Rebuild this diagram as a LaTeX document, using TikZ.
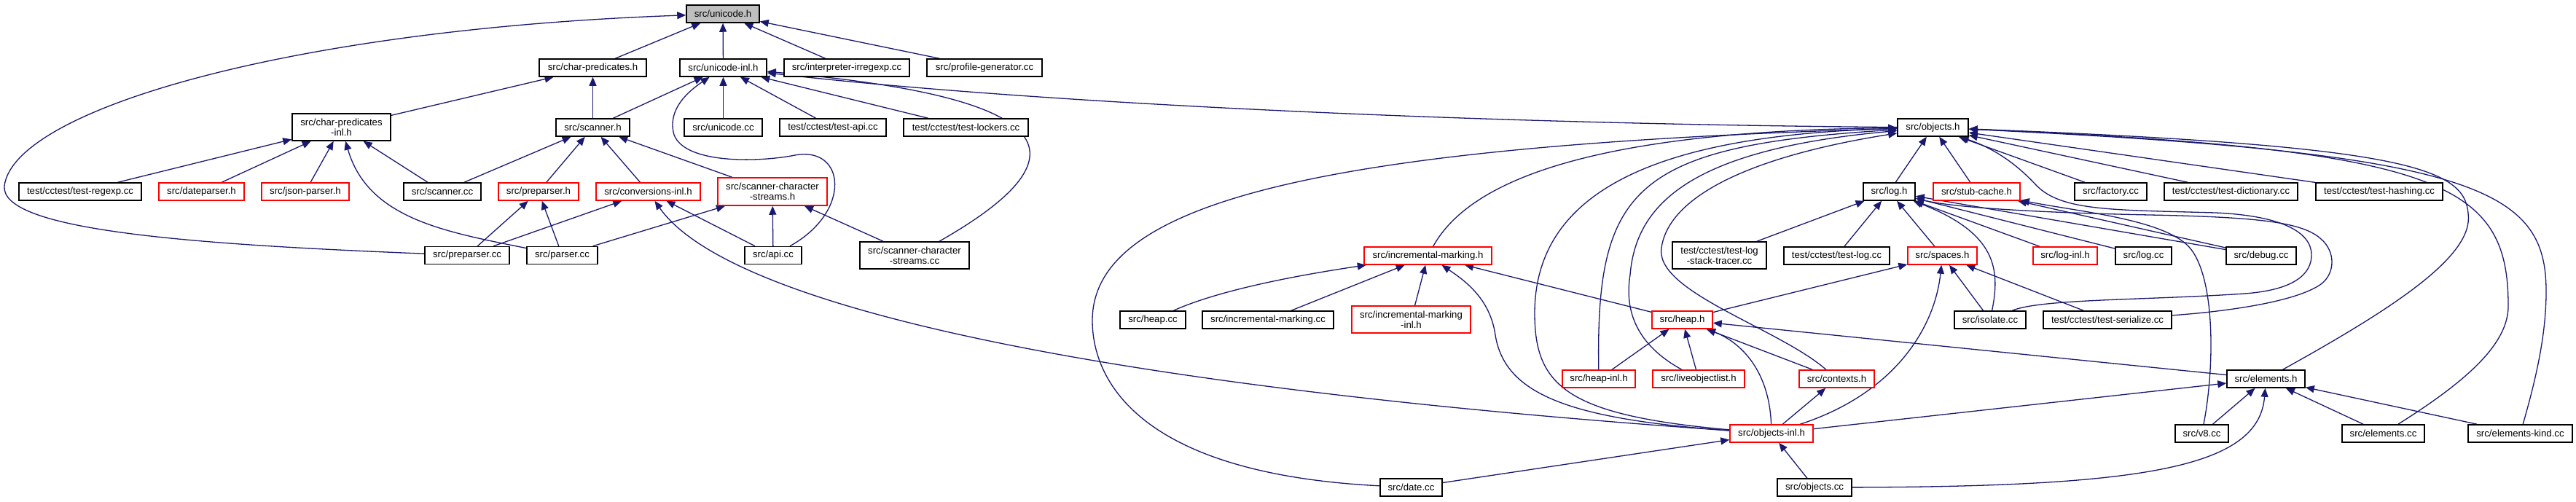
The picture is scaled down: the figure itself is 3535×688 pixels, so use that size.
\documentclass[tikz,border=0pt]{standalone}
\usepackage{fontspec}
\setmainfont{Liberation Sans}
\usetikzlibrary{arrows.meta,backgrounds}
\definecolor{edgec}{RGB}{25,25,112}
\definecolor{rootfill}{RGB}{191,191,191}
\tikzset{
  nd/.style={draw=black, line width=1.5pt, fill=white, inner sep=0pt, minimum height=24pt, align=center, font=\fontsize{13.2}{14}\selectfont},
  rd/.style={nd, draw=red},
  e/.style={draw=edgec, line width=1.3pt, -{Triangle[length=12pt,width=10pt]}},
}
\begin{document}
\begin{tikzpicture}[x=1pt,y=-1pt]
\useasboundingbox (0,0) rectangle (3535,688);
% row 0
\node[nd, fill=rootfill, minimum width=100pt] (unicode) at (992,19) {src/unicode.h};
% row 1
\node[nd, minimum width=147pt] (charpred) at (813.5,93) {src/char-predicates.h};
\node[nd, minimum width=119pt] (unicodeinl) at (992.5,93) {src/unicode-inl.h};
\node[nd, minimum width=172pt] (interp) at (1162,93) {src/interpreter-irregexp.cc};
\node[nd, minimum width=158pt] (profgen) at (1351,93) {src/profile-generator.cc};
% row 2
\node[nd, minimum width=135pt, minimum height=37pt] (charpredinl) at (468.5,174.5) {src/char-predicates\\-inl.h};
\node[nd, minimum width=101pt] (scannerh) at (813.5,175) {src/scanner.h};
\node[nd, minimum width=107pt] (unicodecc) at (992.5,175) {src/unicode.cc};
\node[nd, minimum width=146pt] (testapi) at (1143,175) {test/cctest/test-api.cc};
\node[nd, minimum width=171pt] (testlockers) at (1325.5,175) {test/cctest/test-lockers.cc};
\node[nd, minimum width=97pt] (objectsh) at (2652.5,175) {src/objects.h};
% row 3
\node[nd, minimum width=168pt] (testregexp) at (110,263) {test/cctest/test-regexp.cc};
\node[rd, minimum width=117pt] (dateparser) at (276.5,263) {src/dateparser.h};
\node[rd, minimum width=120pt] (jsonparser) at (419,263) {src/json-parser.h};
\node[nd, minimum width=106pt] (scannercc) at (607,263) {src/scanner.cc};
\node[rd, minimum width=110pt] (preparserh) at (739,263) {src/preparser.h};
\node[rd, minimum width=143pt] (convinl) at (889.5,263) {src/conversions-inl.h};
\node[rd, minimum width=150pt, minimum height=38pt] (scstreamsh) at (1060,263) {src/scanner-character\\-streams.h};
\node[nd, minimum width=71pt] (logh) at (2592.5,263) {src/log.h};
\node[rd, minimum width=119pt] (stubcache) at (2712.5,263) {src/stub-cache.h};
\node[nd, minimum width=99pt] (factory) at (2896.5,263) {src/factory.cc};
\node[nd, minimum width=183pt] (testdict) at (3061.5,263) {test/cctest/test-dictionary.cc};
\node[nd, minimum width=174pt] (testhash) at (3265,263) {test/cctest/test-hashing.cc};
% row 4
\node[nd, minimum width=116pt] (preparsercc) at (641,350.5) {src/preparser.cc};
\node[nd, minimum width=97pt] (parsercc) at (771.5,350.5) {src/parser.cc};
\node[nd, minimum width=78pt] (apicc) at (1061,350.5) {src/api.cc};
\node[nd, minimum width=150pt, minimum height=37pt] (scstreamscc) at (1255,350.5) {src/scanner-character\\-streams.cc};
\node[rd, minimum width=175pt] (incmarkh) at (1959.5,351) {src/incremental-marking.h};
\node[nd, minimum width=129pt, minimum height=37pt] (testlogst) at (2359.5,350.5) {test/cctest/test-log\\-stack-tracer.cc};
\node[nd, minimum width=145pt] (testlogcc) at (2520.5,351) {test/cctest/test-log.cc};
\node[rd, minimum width=95pt] (spacesh) at (2665.5,351) {src/spaces.h};
\node[rd, minimum width=88pt] (loginl) at (2834,351) {src/log-inl.h};
\node[nd, minimum width=77pt] (logcc) at (2941.5,351) {src/log.cc};
\node[nd, minimum width=96pt] (debugcc) at (3103,351) {src/debug.cc};
% row 5
\node[nd, minimum width=90pt] (heapcc) at (1582,439) {src/heap.cc};
\node[nd, minimum width=180pt] (incmarkcc) at (1740,439) {src/incremental-marking.cc};
\node[rd, minimum width=163pt, minimum height=37pt] (incmarkinl) at (1936.5,438.5) {src/incremental-marking\\-inl.h};
\node[rd, minimum width=83pt] (heaph) at (2308.5,439) {src/heap.h};
\node[nd, minimum width=98pt] (isolatecc) at (2731,439) {src/isolate.cc};
\node[nd, minimum width=176pt] (testser) at (2892,439) {test/cctest/test-serialize.cc};
% row 6
\node[rd, minimum width=100pt] (heapinl) at (2194,520) {src/heap-inl.h};
\node[rd, minimum width=126pt] (liveobj) at (2331,520) {src/liveobjectlist.h};
\node[rd, minimum width=103pt] (contexts) at (2520.5,520) {src/contexts.h};
\node[nd, minimum width=107pt] (elementsh) at (3109.5,520) {src/elements.h};
% row 7
\node[rd, minimum width=114pt] (objectsinl) at (2431,595) {src/objects-inl.h};
\node[nd, minimum width=73pt] (v8cc) at (3021.5,595) {src/v8.cc};
\node[nd, minimum width=113pt] (elementscc) at (3270.5,595) {src/elements.cc};
\node[nd, minimum width=143pt] (elemkind) at (3458.5,595) {src/elements-kind.cc};
% row 8
\node[nd, minimum width=85pt] (datecc) at (1936.5,669) {src/date.cc};
\node[nd, minimum width=102pt] (objectscc) at (2490,669) {src/objects.cc};

\begin{scope}[on background layer]
% into unicode.h
\draw[e] (preparsercc) .. controls (250,335) and (0,315) .. (6,255) .. controls (20,150) and (400,40) .. (unicode);
\draw[e] (charpred) -- (unicode);
\draw[e] (unicodeinl) -- (unicode);
\draw[e] (interp) -- (unicode);
\draw[e] (profgen) -- (unicode);
% into char-predicates.h
\draw[e] (charpredinl) -- (charpred);
\draw[e] (scannerh) -- (charpred);
% into char-predicates-inl.h
\draw[e] (testregexp) -- (charpredinl);
\draw[e] (dateparser) -- (charpredinl);
\draw[e] (jsonparser) -- (charpredinl);
\draw[e] (scannercc) -- (charpredinl);
\draw[e] (parsercc) .. controls (610,318) and (505,300) .. (charpredinl);
% into scanner.h
\draw[e] (scannercc) -- (scannerh);
\draw[e] (preparserh) -- (scannerh);
\draw[e] (convinl) -- (scannerh);
\draw[e] (scstreamsh) -- (scannerh);
% into unicode-inl.h
\draw[e] (scannerh) -- (unicodeinl);
\draw[e] (apicc) .. controls (1170,290) and (1160,200) .. (1091,213) .. controls (1040,223) and (940,225) .. (925,185) .. controls (915,150) and (945,125) .. (unicodeinl);
\draw[e] (unicodecc) -- (unicodeinl);
\draw[e] (testapi) -- (unicodeinl);
\draw[e] (testlockers) -- (unicodeinl);
\draw[e] (scstreamscc) .. controls (1520,200) and (1420,130) .. (unicodeinl);
\draw[e] (objectsh) .. controls (2000,170) and (1400,140) .. (unicodeinl);
% into preparser.h
\draw[e] (preparsercc) -- (preparserh);
\draw[e] (parsercc) -- (preparserh);
% into conversions-inl.h
\draw[e] (preparsercc) -- (convinl);
\draw[e] (apicc) -- (convinl);
\draw[e] (objectsinl) .. controls (1500,530) and (1000,420) .. (convinl);
% into scanner-character-streams.h
\draw[e] (parsercc) -- (scstreamsh);
\draw[e] (apicc) -- (scstreamsh);
\draw[e] (scstreamscc) -- (scstreamsh);
% into objects.h
\draw[e] (datecc) .. controls (1560,650) and (1499,520) .. (1499,440) .. controls (1499,280) and (1800,200) .. (objectsh);
\draw[e] (incmarkh) .. controls (2010,260) and (2150,180) .. (objectsh);
\draw[e] (objectsinl) .. controls (2150,570) and (2106,530) .. (2106,430) .. controls (2106,250) and (2300,185) .. (objectsh);
\draw[e] (heapinl) .. controls (2190,260) and (2240,200) .. (objectsh);
\draw[e] (liveobj) .. controls (2240,470) and (2230,420) .. (2237,377) .. controls (2245,280) and (2320,205) .. (objectsh);
\draw[e] (contexts) .. controls (2440,450) and (2270,400) .. (2280,340) .. controls (2290,270) and (2400,215) .. (objectsh);
\draw[e] (logh) -- (objectsh);
\draw[e] (stubcache) -- (objectsh);
\draw[e] (factory) -- (objectsh);
\draw[e] (testdict) -- (objectsh);
\draw[e] (testhash) -- (objectsh);
\draw[e] (elementsh) .. controls (3290,420) and (3395,350) .. (3387,293) .. controls (3382,230) and (3300,200) .. (objectsh);
\draw[e] (elementscc) .. controls (3390,520) and (3442,470) .. (3442,420) .. controls (3442,250) and (3350,205) .. (objectsh);
\draw[e] (elemkind) .. controls (3480,520) and (3494,460) .. (3494,400) .. controls (3494,260) and (3400,210) .. (objectsh);
\draw[e] (isolatecc) .. controls (2800,410) and (2950,412) .. (3080,403) .. controls (3150,398) and (3172,375) .. (3172,350) .. controls (3172,318) and (3130,296) .. (3040,292) .. controls (2900,288) and (2830,290) .. (2795,255) .. controls (2770,228) and (2740,205) .. (objectsh);
% into log.h
\draw[e] (testser) .. controls (3050,428) and (3150,415) .. (3185,390) .. controls (3205,375) and (3205,345) .. (3185,328) .. controls (3160,305) and (3100,298) .. (2950,295) .. controls (2800,292) and (2680,285) .. (logh);
\draw[e] (testlogst) -- (logh);
\draw[e] (testlogcc) -- (logh);
\draw[e] (spacesh) -- (logh);
\draw[e] (isolatecc) .. controls (2745,370) and (2740,320) .. (logh);
\draw[e] (loginl) -- (logh);
\draw[e] (logcc) -- (logh);
\draw[e] (debugcc) -- (logh);
% into stub-cache.h
\draw[e] (debugcc) -- (stubcache);
\draw[e] (v8cc) .. controls (3040,500) and (3040,370) .. (3000,335) .. controls (2960,300) and (2850,290) .. (stubcache);
% into spaces.h
\draw[e] (heaph) -- (spacesh);
\draw[e] (isolatecc) -- (spacesh);
\draw[e] (testser) -- (spacesh);
\draw[e] (objectsinl) .. controls (2600,540) and (2655,450) .. (spacesh);
% into incremental-marking.h
\draw[e] (heapcc) .. controls (1680,395) and (1800,375) .. (incmarkh);
\draw[e] (incmarkcc) -- (incmarkh);
\draw[e] (incmarkinl) -- (incmarkh);
\draw[e] (objectsinl) .. controls (2150,575) and (2065,540) .. (2052,460) .. controls (2045,410) and (2010,385) .. (incmarkh);
\draw[e] (heaph) -- (incmarkh);
% into heap.h
\draw[e] (heapinl) -- (heaph);
\draw[e] (liveobj) -- (heaph);
\draw[e] (objectsinl) .. controls (2428,510) and (2390,470) .. (heaph);
\draw[e] (contexts) -- (heaph);
\draw[e] (elementsh) -- (heaph);
% into elements.h
\draw[e] (objectsinl) -- (elementsh);
\draw[e] (v8cc) -- (elementsh);
\draw[e] (objectscc) .. controls (2950,668) and (3100,640) .. (elementsh);
\draw[e] (elementscc) -- (elementsh);
\draw[e] (elemkind) -- (elementsh);
% into contexts.h
\draw[e] (objectsinl) -- (contexts);
% into objects-inl.h
\draw[e] (datecc) -- (objectsinl);
\draw[e] (objectscc) -- (objectsinl);
\end{scope}
\end{tikzpicture}
\end{document}
